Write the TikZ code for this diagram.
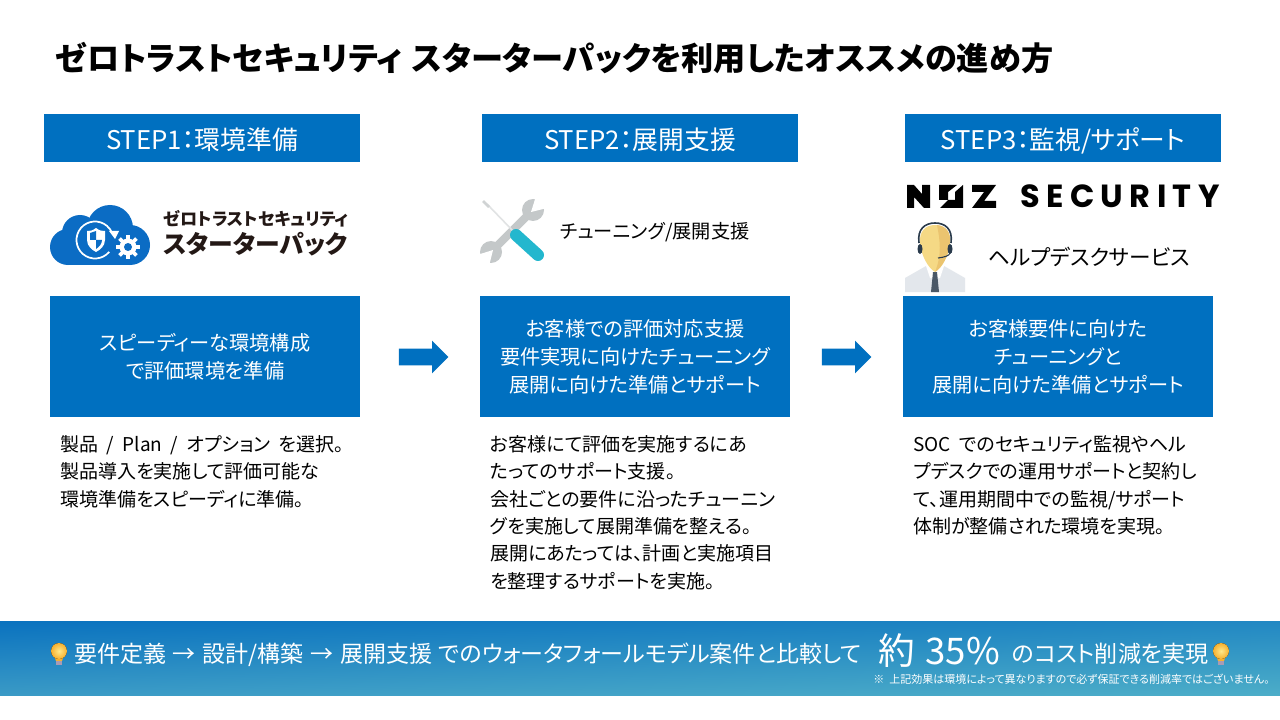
\documentclass[tikz,border=0pt]{standalone}
\usepackage{fontspec}
\usepackage{tikz}
\usetikzlibrary{calc,shapes.arrows,shadings}
\setmainfont[RawFeature=+palt, WordSpace=2]{Noto Sans CJK JP}
\newfontfamily\titlefont[RawFeature=+palt, WordSpace=1.05]{Noto Sans CJK JP}
\newfontfamily\barfont[RawFeature=+palt, WordSpace=1.3]{Noto Sans CJK JP}
\newfontfamily\logofont[LetterSpace=20]{Poppins}
\def\pxfont#1#2{\fontsize{#1}{#2}\selectfont}
\definecolor{stepblue}{HTML}{0070C0}
\definecolor{logoblue}{HTML}{0B6CC4}
\definecolor{logotext}{HTML}{231815}
\definecolor{wrenchgray}{HTML}{C4C8C9}
\definecolor{handleteal}{HTML}{23B7CE}
\definecolor{facelight}{HTML}{F5D985}
\definecolor{facedark}{HTML}{EBC46F}
\definecolor{headsetdark}{HTML}{2A3B4C}
\definecolor{shirtgray}{HTML}{E3E7EC}
\definecolor{barleftup}{HTML}{0A72BF}
\definecolor{barrightup}{HTML}{2288C3}
\definecolor{barleftlow}{HTML}{3A9AC6}
\definecolor{barrightlow}{HTML}{4CADC8}
\definecolor{bulbedge}{HTML}{F6B02E}
\definecolor{bulbcore}{HTML}{FFE98A}
\definecolor{bulbbase}{HTML}{A79BB5}
\tikzset{
	stepbox/.style={fill=stepblue, text=white, inner sep=0pt, minimum width=237pt, minimum height=36pt, text height=20pt, text depth=2pt, font=\pxfont{19.3}{22}},
	mainbox/.style={fill=stepblue, text=white, inner sep=0pt, minimum width=232.5pt, minimum height=90.75pt, align=center, font=\pxfont{15.15}{21}, execute at begin node=\rule{0pt}{17.5pt}},
	desctext/.style={anchor=north west, inner sep=0pt, align=left, font=\pxfont{14.25}{20.55}},
	nextarrow/.style={single arrow, fill=stepblue, inner sep=0pt, text width=18pt, text height=6pt, text depth=6pt, minimum width=24pt, minimum height=37pt, single arrow head extend=6pt, single arrow tip angle=90},
	bartext/.style={anchor=base west, inner sep=0pt, text=white},
	plaintext/.style={anchor=west, inner sep=0pt}
}
\def\drawbulb#1#2{
	\begin{scope}[shift={(#1,#2)}]
		\fill[bulbedge] (-5,1) -- (5,1) -- (3,7) -- (-3,7) -- cycle;
		\fill[inner color=bulbcore, outer color=bulbedge] (0,-3) circle (8);
		\fill[bulbbase] (-3,7) rectangle (3,11);
	\end{scope}
}
\begin{document}
\begin{tikzpicture}[x=0.75pt, y=-0.75pt]
	%%%%% START %%%%%
	\useasboundingbox (0,0) rectangle (1280,720);
	\fill[white] (0,0) rectangle (1280,720);

	\node[anchor=base west, inner sep=0pt, font=\titlefont\pxfont{24.15}{27}\bfseries] (title) at (55,71) {ゼロトラストセキュリティ スターターパックを利用したオススメの進め方};

	\node[stepbox] (step1) at (202,138) {STEP1：環境準備};
	\node[stepbox] (step2) at (640,138) {STEP2：展開支援};
	\node[stepbox] (step3) at (1063,138) {STEP3：監視/サポート};

	\node[mainbox] (box1) at (205,356.5) {スピーディーな環境構成\\で評価環境を準備};
	\node[mainbox] (box2) at (635,356.5) {お客様での評価対応支援\\要件実現に向けたチューニング\\展開に向けた準備とサポート};
	\node[mainbox] (box3) at (1058,356.5) {お客様要件に向けた\\チューニングと\\展開に向けた準備とサポート};

	\node[nextarrow] (next1) at (419.5,357) {};
	\node[nextarrow] (next2) at (842.5,357) {};

	\node[desctext] (desc1) at (60,435) {製品 / Plan / オプション を選択。\\製品導入を実施して評価可能な\\環境準備をスピーディに準備。};
	\node[desctext] (desc2) at (490,435) {お客様にて評価を実施するにあ\\たってのサポート支援。\\会社ごとの要件に沿ったチューニン\\グを実施して展開準備を整える。\\展開にあたっては、計画と実施項目\\を整理するサポートを実施。};
	\node[desctext] (desc3) at (913,435) {SOC でのセキュリティ監視やヘル\\プデスクでの運用サポートと契約し\\て、運用期間中での監視/サポート\\体制が整備された環境を実現。};

	%cloud logo
	\fill[logoblue] (68,247) circle (18);
	\fill[logoblue] (130,245) circle (20);
	\fill[logoblue] (110,228) circle (23);
	\fill[logoblue] (80,233) circle (18);
	\fill[logoblue] (68,240) rectangle (130,265);
	\draw[white, line width=1.3pt] (95,240) ++(40:18.5) arc (40:340:18.5);
	\fill[white] (109,231) -- (119,231) -- (115,239) -- cycle;
	\fill[white] (96,228) .. controls (92,231) and (90,231) .. (87,231) -- (87,240) .. controls (87,246) and (92,250) .. (96,252) .. controls (100,250) and (105,246) .. (105,240) -- (105,231) .. controls (102,231) and (100,231) .. (96,228) -- cycle;
	\fill[logoblue] (96,231) -- (96,240) -- (90,240) -- (90,233) -- cycle;
	\fill[logoblue] (96,240) -- (102,240) .. controls (102,244) and (99,247) .. (96,249) -- cycle;
	\fill[logoblue] (128,247) circle (14);
	\foreach \tooth in {0,45,...,315}
		\draw[white, line width=2.8pt] (128,247) -- ++(\tooth:12);
	\fill[white] (128,247) circle (8.5);
	\fill[logoblue] (128,247) circle (4);
	\node[plaintext, text=logotext, font=\pxfont{12.9}{14}\bfseries] (logoname) at (163,219) {ゼロトラストセキュリティ};
	\node[plaintext, text=logotext, font=\pxfont{18.6}{20}\bfseries] (logopack) at (163,244) {スターターパック};

	%tools
	\fill[wrenchgray] (533,210) circle (11);
	\fill[wrenchgray] (491,252) circle (11);
	\draw[wrenchgray, line width=6pt] (533,210) -- (491,252);
	\fill[white] (531,212) -- (537,193) -- (551,207) -- cycle;
	\fill[white] (493,250) -- (474,256) -- (488,270) -- cycle;
	\draw[wrenchgray!50, line width=1.2pt] (487,204) -- (514,232);
	\draw[wrenchgray!80, line width=2pt] (483,201) -- (489,207);
	\draw[handleteal, line width=9pt, line cap=round] (516,235) -- (538,255);
	\node[plaintext, font=\pxfont{14.4}{17}] (toolname) at (560,232) {チューニング/展開支援};

	%security logo
	\fill (907,185) -- (914,185) -- (922,194) -- (922,185) -- (930,185) -- (930,208) -- (924,208) -- (914,197) -- (914,208) -- (907,208) -- cycle;
	\fill (939,185) -- (957,185) -- (948,192) -- (948,200) -- (939,200) -- cycle;
	\fill (963,185) -- (963,208) -- (940,208) -- (948,200) -- (955,200) -- (955,192) -- cycle;
	\fill (972,185) -- (996,185) -- (984,201) -- (996,201) -- (996,208) -- (972,208) -- (984,192) -- (972,192) -- cycle;
	\node[anchor=base west, inner sep=0pt, font=\logofont\bfseries\pxfont{24}{28}] (logosec) at (1020,208) {SECURITY};

	%operator
	\fill[shirtgray] (905,292) -- (905,278) -- (926,266) -- (944,266) -- (965,278) -- (965,292) -- cycle;
	\fill[white] (926,266) -- (944,266) -- (940,278) -- (930,278) -- cycle;
	\fill[headsetdark!85] (933,272) -- (937,272) -- (939,292) -- (931,292) -- cycle;
	\fill[facelight] (935,225) .. controls (925,225) and (919,232) .. (920,243) .. controls (921,255) and (928,268) .. (935,272) .. controls (942,268) and (949,255) .. (950,243) .. controls (951,232) and (945,225) .. (935,225) -- cycle;
	\fill[facedark] (937,225) .. controls (946,226) and (951,232) .. (950,243) .. controls (949,255) and (942,268) .. (935,272) .. controls (942,255) and (940,240) .. (937,225) -- cycle;
	\draw[headsetdark, line width=1.2pt] (919,243) .. controls (917,229) and (925,223) .. (935,223) .. controls (945,223) and (953,229) .. (951,243);
	\fill[headsetdark] (920,249) ellipse (2.5 and 5);
	\fill[headsetdark] (950,249) ellipse (2.5 and 5);
	\draw[headsetdark, line width=0.8pt] (950,253) .. controls (949,256) and (945,257) .. (938,258);
	\node[plaintext, font=\pxfont{16.2}{18}] (deskname) at (988,257) {ヘルプデスクサービス};

	%bottom bar
	\shade[upper left=barleftup, upper right=barrightup, lower left=barleftlow, lower right=barrightlow] (0,621) rectangle (1280,695);
	\drawbulb{59}{654}
	\drawbulb{1221}{654}
	\node[bartext, font=\barfont\pxfont{17.25}{20}] (barleft) at (74,662) {要件定義 → 設計/構築 → 展開支援 でのウォータフォールモデル案件と比較して};
	\node[bartext, font=\barfont\pxfont{27.5}{30}] (barvalue) at (878,664) {約 35\%};
	\node[bartext, font=\barfont\pxfont{17.3}{20}] (barright) at (1012,662) {のコスト削減を実現};
	\node[anchor=base east, inner sep=0pt, text=white, font=\pxfont{8.25}{10}] (barnote) at (1270,683) {※ 上記効果は環境によって異なりますので必ず保証できる削減率ではございません。};
	%%%%% END %%%%%
\end{tikzpicture}
\end{document}
